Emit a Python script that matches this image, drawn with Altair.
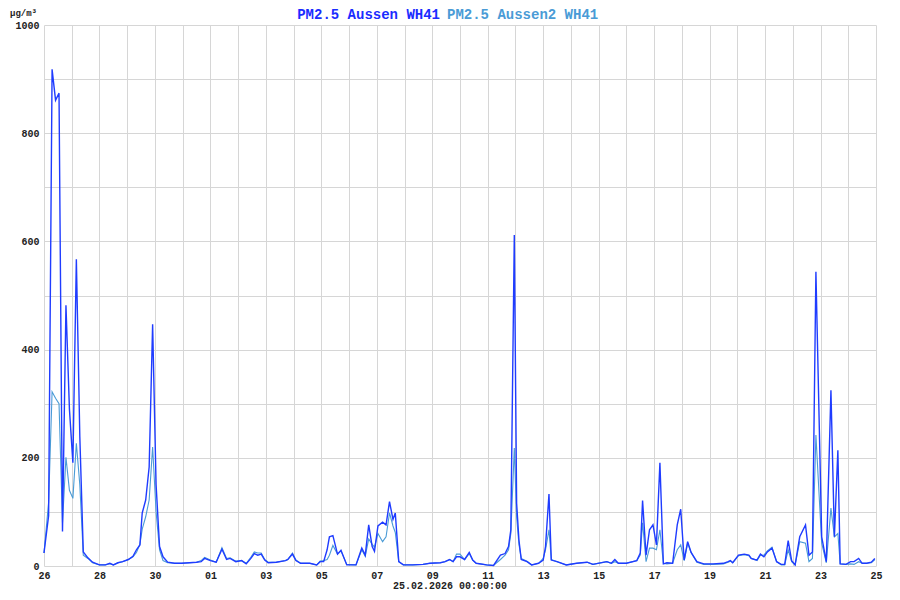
import altair as alt
import pandas as pd

# hours since 26.01.2026 00:00
hours = [
    0, 4, 7, 10, 13, 16, 19, 22, 25, 28,
    31, 34, 38, 42, 48, 53, 57, 60, 64, 68,
    73, 77, 80, 83, 85, 88, 91, 94, 97, 100,
    103, 107, 113, 119, 126, 132, 136, 139, 144, 149,
    154, 158, 161, 166, 171, 175, 179, 182, 185, 188,
    191, 194, 201, 209, 211, 215, 218, 222, 230, 236,
    239, 242, 245, 247, 250, 254, 257, 262, 270, 275,
    278, 281, 284, 286, 289, 293, 296, 299, 302, 304,
    307, 311, 319, 328, 334, 343, 347, 351, 354, 357,
    360, 364, 368, 371, 374, 383, 389, 395, 399, 402,
    404, 407, 409, 411, 413, 418, 422, 428, 432, 434,
    437, 439, 444, 452, 461, 470, 475, 487, 491, 494,
    497, 504, 513, 516, 518, 521, 524, 527, 530, 533,
    536, 539, 544, 548, 551, 554, 557, 560, 565, 571,
    579, 588, 592, 594, 596, 601, 606, 610, 612, 615,
    617, 620, 623, 626, 630, 634, 638, 641, 644, 647,
    650, 654, 659, 662, 665, 668, 673, 677, 681, 684,
    687, 689, 694, 698, 701, 705, 708, 712, 716, 719,
]

aussen = [
    24, 93, 918, 861, 874, 64, 482, 290, 191, 567,
    239, 26, 15, 7, 2, 2, 5, 2, 6, 8,
    12, 18, 30, 39, 98, 122, 183, 447, 150, 36,
    17, 7, 5, 5, 6, 7, 8, 14, 10, 7,
    31, 12, 14, 8, 10, 4, 14, 23, 20, 22,
    11, 6, 7, 10, 12, 22, 10, 5, 5, 2,
    8, 8, 30, 54, 56, 22, 29, 2, 2, 33,
    20, 76, 36, 27, 74, 81, 76, 119, 86, 98,
    8, 2, 2, 3, 5, 6, 8, 12, 8, 17,
    17, 12, 25, 11, 5, 2, 1, 20, 23, 36,
    67, 612, 116, 48, 12, 8, 2, 5, 11, 36,
    133, 11, 8, 2, 5, 7, 3, 8, 5, 12,
    5, 5, 10, 24, 121, 20, 67, 76, 39, 191,
    4, 6, 5, 76, 105, 11, 45, 25, 8, 4,
    4, 5, 8, 10, 6, 20, 22, 20, 14, 12,
    11, 22, 17, 26, 33, 8, 3, 3, 47, 10,
    2, 54, 76, 20, 26, 544, 54, 8, 325, 54,
    214, 4, 3, 8, 8, 14, 5, 5, 7, 14,
]

aussen2 = [
    24, 118, 322, 310, 300, 80, 201, 140, 125, 227,
    150, 20, 14, 6, 2, 2, 4, 2, 6, 8,
    12, 17, 25, 40, 68, 91, 122, 220, 100, 30,
    10, 6, 5, 5, 6, 7, 10, 16, 11, 7,
    34, 14, 15, 9, 10, 5, 16, 26, 24, 24,
    12, 7, 7, 10, 12, 24, 11, 5, 5, 2,
    9, 10, 12, 20, 38, 22, 28, 3, 2, 30,
    18, 50, 40, 35, 60, 45, 54, 98, 74, 62,
    8, 2, 2, 3, 5, 6, 8, 12, 8, 22,
    22, 12, 23, 11, 5, 2, 1, 12, 20, 30,
    60, 218, 90, 40, 14, 9, 2, 5, 14, 30,
    67, 12, 8, 2, 5, 7, 3, 8, 5, 8,
    5, 5, 10, 20, 80, 8, 33, 33, 30, 67,
    5, 4, 5, 30, 39, 10, 42, 25, 7, 3,
    3, 4, 7, 9, 6, 19, 21, 19, 14, 12,
    10, 20, 20, 28, 35, 8, 2, 2, 30, 8,
    2, 45, 42, 8, 14, 242, 42, 6, 107, 54,
    60, 4, 3, 4, 3, 8, 5, 5, 6, 12,
]

day_labels = ["26", "", "28", "", "30", "", "01", "", "03", "", "05", "", "07", "",
              "09", "", "11", "", "13", "", "15", "", "17", "", "19", "", "21", "",
              "23", "", "25"]

series_names = ["PM2.5 Aussen WH41", "PM2.5 Aussen2 WH41"]
series_colors = ["#1f3cff", "#4a9bd6"]
unit_label = "µg/m³"
date_label = "25.02.2026 00:00:00"

assert len(hours) == len(aussen) == len(aussen2)

long = pd.concat([
    pd.DataFrame({"h": hours, "v": aussen, "s": series_names[0], "o": 1}),
    pd.DataFrame({"h": hours, "v": aussen2, "s": series_names[1], "o": 0}),
])

FONT = "Liberation Mono"
label_arr = "[" + ",".join("'%s'" % l for l in day_labels) + "]"

x_enc = alt.X("h:Q", scale=alt.Scale(domain=[0, 720], nice=False, zero=False),
              axis=alt.Axis(values=list(range(0, 721, 24)), title=None,
                            labelExpr=label_arr + "[round(datum.value/24)]",
                            grid=True, ticks=False, domain=False,
                            labelPadding=4, labelFlush=False, labelOverlap=False))
y_enc = alt.Y("v:Q", scale=alt.Scale(domain=[0, 1000], nice=False),
              axis=alt.Axis(values=list(range(0, 1001, 100)), title=None,
                            labelExpr="datum.value % 200 == 0 ? datum.label : ''",
                            format="d", grid=True, ticks=False, domain=False,
                            labelPadding=5, labelOverlap=False))

light = alt.Chart(long).transform_filter(alt.datum.o == 0).mark_line(
    color=series_colors[1], strokeWidth=1.1, interpolate="linear"
).encode(x=x_enc, y=y_enc)

dark = alt.Chart(long).transform_filter(alt.datum.o == 1).mark_line(
    color=series_colors[0], strokeWidth=1.4, interpolate="linear"
).encode(x=x_enc, y=y_enc)

txt = pd.DataFrame({"t": [0]})
t1 = alt.Chart(txt).mark_text(text=series_names[0], font=FONT, fontWeight="bold",
                              fontSize=14, color="#1a2cff", align="right",
                              baseline="top").encode(x=alt.value(396), y=alt.value(-17))
t2 = alt.Chart(txt).mark_text(text=series_names[1], font=FONT, fontWeight="bold",
                              fontSize=14, color=series_colors[1], align="left",
                              baseline="top").encode(x=alt.value(403), y=alt.value(-17))
t3 = alt.Chart(txt).mark_text(text=unit_label, font=FONT, fontWeight="bold",
                              fontSize=9, color="#222222", align="left",
                              baseline="top").encode(x=alt.value(-34), y=alt.value(-16))
t4 = alt.Chart(txt).mark_text(text=date_label, font=FONT, fontWeight="bold",
                              fontSize=10, color="#222222", align="center",
                              baseline="bottom").encode(x=alt.value(406), y=alt.value(566))

chart = alt.layer(light, dark, t1, t2, t3, t4).properties(
    width=832, height=541,
    autosize=alt.AutoSizeParams(type="none"),
    padding={"left": 36, "top": 17, "right": 8, "bottom": 26},
    background="white",
).configure_view(stroke=None).configure_axis(
    gridColor="#d6d6d6", gridWidth=1, labelFont=FONT, labelFontWeight="bold",
    labelFontSize=10, labelColor="#222222"
)

chart.save("out.html", embed_options={"renderer": "svg", "actions": False})
